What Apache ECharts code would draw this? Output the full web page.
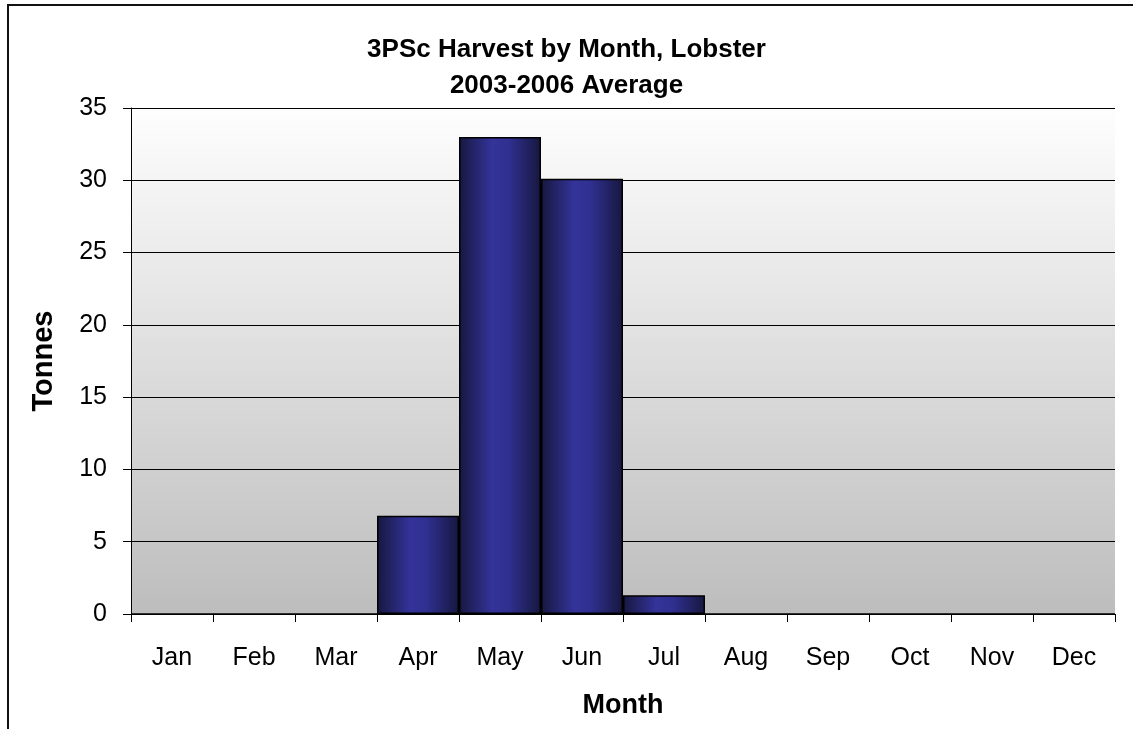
<!DOCTYPE html>
<html>
<head>
<meta charset="utf-8">
<title>3PSc Harvest by Month, Lobster</title>
<script src="https://cdn.jsdelivr.net/npm/echarts@6/dist/echarts.min.js"></script>
<style>
  html, body { margin: 0; padding: 0; background: #ffffff; }
  #chart { width: 1133px; height: 729px; }
</style>
</head>
<body>
<div id="chart"></div>
<script>
// Average monthly lobster harvest (tonnes), 2003-2006
const months = ['Jan', 'Feb', 'Mar', 'Apr', 'May', 'Jun', 'Jul', 'Aug', 'Sep', 'Oct', 'Nov', 'Dec'];
const tonnes = [0, 0, 0, 6.8, 33.0, 30.1, 1.3, 0, 0, 0, 0, 0];
const yTicks = { min: 0, max: 35, interval: 5 };

const FONT = '"Liberation Sans", Arial, sans-serif';

const chart = echarts.init(document.getElementById('chart'));

// Bars are shaded like a cylinder: dark edges, lighter middle
const barFill = new echarts.graphic.LinearGradient(0, 0, 1, 0, [
  { offset: 0, color: '#17173f' },
  { offset: 0.4, color: '#333399' },
  { offset: 0.6, color: '#303092' },
  { offset: 1, color: '#17173f' }
]);

chart.setOption({
  backgroundColor: '#ffffff',
  animation: false,
  title: {
    text: '3PSc Harvest by Month, Lobster\n2003-2006 Average',
    left: 'center',
    top: 27,
    textStyle: {
      fontFamily: FONT,
      fontSize: 26,
      fontWeight: 'bold',
      color: '#000000',
      lineHeight: 36
    }
  },
  graphic: [
    {
      // frame along the top and left of the chart
      type: 'polyline',
      shape: { points: [[8, 729], [8, 5], [1133, 5]] },
      style: { stroke: '#111111', lineWidth: 2, fill: null },
      silent: true
    }
  ],
  grid: {
    left: 131,
    right: 18,
    top: 108,
    bottom: 115,
    show: true,
    borderWidth: 0,
    backgroundColor: new echarts.graphic.LinearGradient(0, 0, 0, 1, [
      { offset: 0, color: '#fefefe' },
      { offset: 1, color: '#bdbdbd' }
    ])
  },
  xAxis: {
    type: 'category',
    data: months,
    name: 'Month',
    nameLocation: 'middle',
    nameGap: 78,
    nameTextStyle: { fontFamily: FONT, fontSize: 27, fontWeight: 'bold', color: '#000' },
    axisLine: { show: true, lineStyle: { color: '#000', width: 1 } },
    axisTick: { show: true, length: 8, lineStyle: { color: '#000' } },
    axisLabel: { fontFamily: FONT, fontSize: 25, color: '#000', margin: 32 },
    splitLine: { show: false }
  },
  yAxis: {
    type: 'value',
    min: yTicks.min,
    max: yTicks.max,
    interval: yTicks.interval,
    name: 'Tonnes',
    nameLocation: 'middle',
    nameGap: 73,
    nameTextStyle: { fontFamily: FONT, fontSize: 29, fontWeight: 'bold', color: '#000' },
    axisLine: { show: true, lineStyle: { color: '#000', width: 1 } },
    axisTick: { show: true, length: 8, lineStyle: { color: '#000' } },
    axisLabel: { fontFamily: FONT, fontSize: 25, color: '#000', margin: 24 },
    splitLine: { show: true, lineStyle: { color: '#000', width: 1 } }
  },
  series: [
    {
      type: 'bar',
      data: tonnes,
      barCategoryGap: '0%',
      itemStyle: {
        color: barFill,
        borderColor: '#000000',
        borderWidth: 1.5
      }
    }
  ]
});
</script>
</body>
</html>
